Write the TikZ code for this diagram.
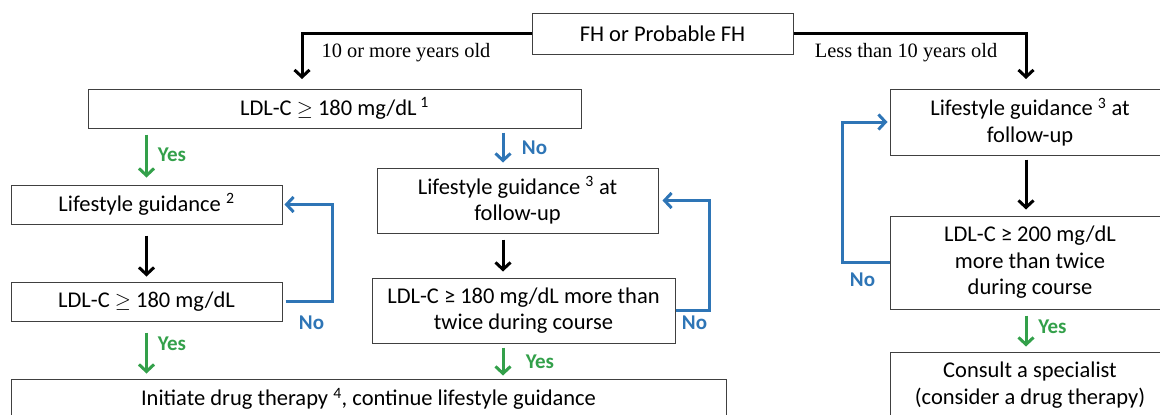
\documentclass[tikz,border=0pt]{standalone}
\usepackage{fontspec}
\setmainfont{Carlito}
\newfontfamily\agefont{Liberation Serif}
\usetikzlibrary{arrows.meta,calc}
\definecolor{yesgreen}{RGB}{51,160,74}
\definecolor{noblue}{RGB}{46,117,182}
\definecolor{boxline}{RGB}{64,64,64}
\begin{document}
\begin{tikzpicture}[x=1pt,y=-1pt,
  box/.style={draw=boxline,line width=1pt,inner sep=0pt,align=center,
    font=\fontsize{22.5}{26.5}\selectfont},
  tip/.style={-{Straight Barb[length=7pt,width=15pt]}},
  flowblack/.style={tip,line width=3pt,black},
  flowyes/.style={tip,line width=3pt,yesgreen},
  flowno/.style={tip,line width=3pt,noblue},
  agelbl/.style={inner sep=0pt,font=\agefont\fontsize{20.4}{24}\selectfont},
  yeslbl/.style={inner sep=0pt,text=yesgreen,font=\bfseries\fontsize{21}{24}\selectfont},
  nolbl/.style={inner sep=0pt,text=noblue,font=\bfseries\fontsize{21}{24}\selectfont}]
\useasboundingbox (0,0) rectangle (1160,415);

% boxes
\node[box,minimum width=261pt,minimum height=41pt] (fh) at (662.5,33.5) {FH or Probable FH};
\node[box,minimum width=493pt,minimum height=39pt] (ldl1) at (334.5,108.5)
  {LDL-C $\geq$ 180 mg/dL\,\textsuperscript{1}};
\node[box,minimum width=271pt,minimum height=39pt] (lg2) at (146.5,204.5)
  {Lifestyle guidance \textsuperscript{2}};
\node[box,minimum width=271pt,minimum height=39pt] (ldl2) at (146.5,301.5)
  {LDL-C $\geq$ 180 mg/dL};
\node[box,minimum width=281pt,minimum height=65pt] (lg3m) at (517.5,200.5)
  {Lifestyle guidance \textsuperscript{3} at\\follow-up};
\node[box,minimum width=303pt,minimum height=65pt] (twice) at (523.5,310.5)
  {LDL-C ≥ 180 mg/dL more than\\twice during course};
\node[box,minimum width=715pt,minimum height=40pt] (drug) at (368.5,399)
  {Initiate drug therapy \textsuperscript{4}, continue lifestyle guidance};
\node[box,minimum width=280pt,minimum height=66pt] (lg3r) at (1030,122)
  {Lifestyle guidance \textsuperscript{3} at\\follow-up};
\node[box,minimum width=280pt,minimum height=93pt] (ldl200) at (1030,262.5)
  {LDL-C ≥ 200 mg/dL\\more than twice\\during course};
\node[box,minimum width=280pt,minimum height=66pt] (consult) at (1030,385)
  {Consult a specialist\\(consider a drug therapy)};

% columns of the vertical connectors
\coordinate (cl) at (146.5,0);
\coordinate (cm) at (503,0);
\coordinate (cr) at (1026,0);
\coordinate (lpl) at (332,0);
\coordinate (lpm) at (709,0);
\coordinate (lpr) at (842,0);
\coordinate (topy) at (0,33);
\coordinate (headl) at (302,79);
\coordinate (headr) at (1026,79);

% age split
\draw[flowblack] (fh.west |- topy) -| (headl);
\draw[flowblack] (fh.east |- topy) -| (headr);
\node[agelbl] (age1) at (406,53) {10 or more years old};
\node[agelbl] (age2) at (906,53) {Less than 10 years old};

% 10 or more years old
\draw[flowyes,shorten <=6pt,shorten >=7pt] (ldl1.south -| cl) -- (lg2.north -| cl);
\node[yeslbl] (y1) at (172,155) {Yes};
\draw[flowno,shorten <=4pt,shorten >=5pt] (ldl1.south -| cm) -- (lg3m.north -| cm);
\node[nolbl] (n1) at (534.5,148) {No};

\draw[flowblack,shorten <=11pt,shorten >=5pt] (lg2.south -| cl) -- (ldl2.north -| cl);
\draw[flowno,shorten <=3pt,shorten >=2pt] (ldl2.east) -- (ldl2.east -| lpl) -- (lg2.east -| lpl) -- (lg2.east);
\node[nolbl] (n2) at (311.5,323) {No};
\draw[flowyes,shorten <=11pt,shorten >=5pt] (ldl2.south -| cl) -- (drug.north -| cl);
\node[yeslbl] (y2) at (172,344) {Yes};

\draw[flowblack,shorten <=6pt,shorten >=6pt] (lg3m.south -| cm) -- (twice.north -| cm);
\draw[flowno,shorten <=0pt,shorten >=4pt] (twice.east) -- (twice.east -| lpm) -- (lg3m.east -| lpm) -- (lg3m.east);
\node[nolbl] (n3) at (694.5,323) {No};
\draw[flowyes,shorten <=4pt,shorten >=3pt] (twice.south -| cm) -- (drug.north -| cm);
\node[yeslbl] (y3) at (540,362) {Yes};

% less than 10 years old
\draw[flowblack,shorten <=4pt,shorten >=6pt] (lg3r.south -| cr) -- (ldl200.north -| cr);
\draw[flowno,shorten <=0pt,shorten >=2pt] (ldl200.west) -- (ldl200.west -| lpr) -- (lg3r.west -| lpr) -- (lg3r.west);
\node[nolbl] (n4) at (862.5,280) {No};
\draw[flowyes,shorten <=6pt,shorten >=5pt] (ldl200.south -| cr) -- (consult.north -| cr);
\node[yeslbl] (y4) at (1052.5,327) {Yes};
\end{tikzpicture}
\end{document}
